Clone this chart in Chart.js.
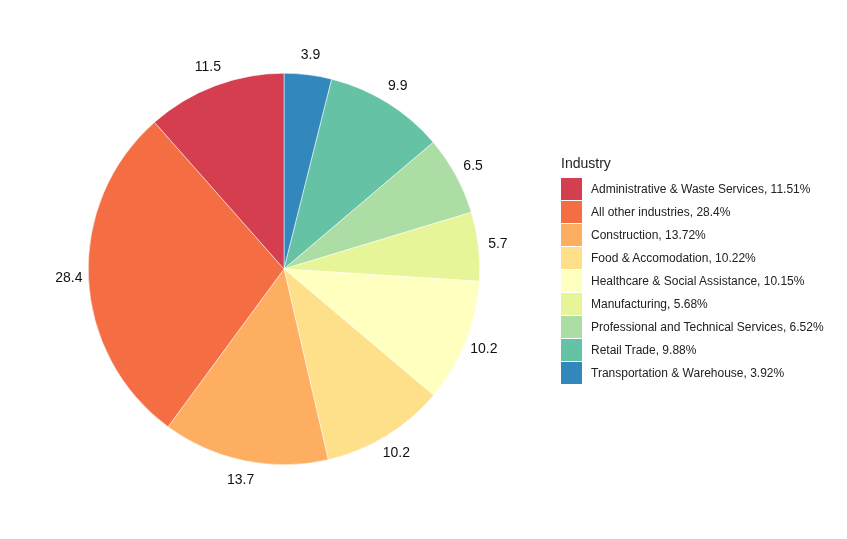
<!DOCTYPE html>
<html>
<head>
<meta charset="utf-8">
<script src="https://cdn.jsdelivr.net/npm/chart.js@4/dist/chart.umd.min.js"></script>
<style>
body { margin:0; background:#fff; font-family:"Liberation Sans", Arial, sans-serif; }
#wrap { position:relative; width:847px; height:539px; }
#legend { position:absolute; left:561px; top:155px; font-size:12px; color:#222; }
#legend .t { font-size:14px; margin-bottom:6px; }
#legend .row { display:flex; align-items:center; height:23px; }
#legend .sw { width:21px; height:22px; margin-right:9px; }
</style>
</head>
<body>
<div id="wrap">
<canvas id="c" width="847" height="539"></canvas>
<div id="legend"><div class="t">Industry</div></div>
</div>
<script>
const categorias = ["Administrative & Waste Services", "All other industries", "Construction", "Food & Accomodation", "Healthcare & Social Assistance", "Manufacturing", "Professional and Technical Services", "Retail Trade", "Transportation & Warehouse"];
const valores = [11.51, 28.4, 13.72, 10.22, 10.15, 5.68, 6.52, 9.88, 3.92];
const colores = ["#D53E4F", "#F46D43", "#FDAE61", "#FEE08B", "#FFFFBF", "#E6F598", "#ABDDA4", "#66C2A5", "#3288BD"];

// la torta va en sentido antihorario, Chart.js dibuja horario: invertimos
const datosPie = valores.slice().reverse();
const coloresPie = colores.slice().reverse();

const leyenda = document.getElementById('legend');
categorias.forEach((c, i) => {
    const row = document.createElement('div');
    row.className = 'row';
    row.innerHTML = `<div class="sw" style="background:${colores[i]}"></div><span>${c}, ${valores[i]}%</span>`;
    leyenda.appendChild(row);
});

const etiquetas = {
    id: 'etiquetas',
    afterDatasetsDraw(chart) {
        const ctx = chart.ctx;
        ctx.save();
        ctx.font = '14px "Liberation Sans", Arial, sans-serif';
        ctx.fillStyle = '#111';
        ctx.textAlign = 'center';
        ctx.textBaseline = 'middle';
        chart.getDatasetMeta(0).data.forEach((arc, i) => {
            const a = (arc.startAngle + arc.endAngle) / 2;
            const r = arc.outerRadius * 1.1;
            ctx.fillText(datosPie[i].toFixed(1), arc.x + Math.cos(a) * r, arc.y + Math.sin(a) * r);
        });
        ctx.restore();
    }
};

new Chart(document.getElementById('c'), {
    type: 'pie',
    data: { labels: categorias.slice().reverse(), datasets: [{ data: datosPie, backgroundColor: coloresPie, borderColor: '#fff', borderWidth: 0.5 }] },
    options: {
        responsive: false, animation: false,
        layout: { padding: { left: 88, right: 367, top: 73, bottom: 74 } },
        plugins: { legend: { display: false }, tooltip: { enabled: false } }
    },
    plugins: [etiquetas]
});
</script>
</body>
</html>
